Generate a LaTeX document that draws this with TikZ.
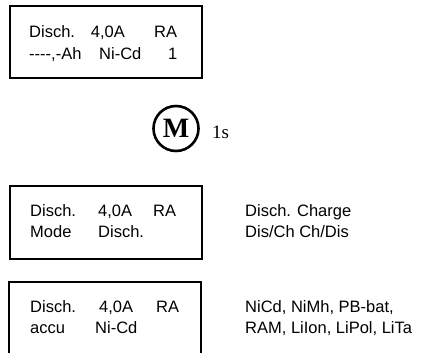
\documentclass[tikz,border=0pt]{standalone}
\usepackage{fontspec}
\setmainfont{Liberation Sans}
\newfontfamily\serifM{Liberation Serif}
\begin{document}
\begin{tikzpicture}[x=1pt,y=-1pt,
  lcd/.style={draw=black,line width=1.6pt},
  txt/.style={anchor=base west,inner sep=0pt,font=\fontsize{16.5}{19}\selectfont},
  mbutton/.style={circle,draw=black,line width=2.6pt,minimum size=45pt,inner sep=0pt,font=\serifM\bfseries\fontsize{28}{30}\selectfont},
  ttxt/.style={anchor=base west,inner sep=0pt,font=\serifM\fontsize{19}{21}\selectfont}]
\useasboundingbox (0,0) rectangle (426,353);
% box 1
\node[lcd,minimum width=192pt,minimum height=72pt,anchor=north west,inner sep=0pt] (b1) at (9,5) {};
\node[txt] (b1a) at (29,37.3) {Disch.};
\node[txt] (b1b) at (90.7,37.3) {4,0A};
\node[txt] (b1c) at (154,37.3) {RA};
\node[txt] (b1d) at (29,59.3) {{-}{-}{-}{-},{-}Ah};
\node[txt] (b1e) at (99,59.3) {Ni-Cd};
\node[txt] (b1f) at (168,59.3) {1};
% M button
\node[mbutton] (m) at (176,128.5) {M};
\node[ttxt] (t) at (212,138.5) {1s};
% box 2
\node[lcd,minimum width=192pt,minimum height=73pt,anchor=north west,inner sep=0pt] (b2) at (9,185) {};
\node[txt] (b2a) at (30,216) {Disch.};
\node[txt] (b2b) at (98,216) {4,0A};
\node[txt] (b2c) at (153,216) {RA};
\node[txt] (b2d) at (30,237.3) {Mode};
\node[txt] (b2e) at (98,237.3) {Disch.};
\node[txt] (r2a) at (245,216) {Disch. Charge};
\node[txt] (r2b) at (245,237.3) {Dis/Ch Ch/Dis};
% box 3 (cut off at the bottom)
\coordinate (c3a) at (9,356);
\coordinate (c3b) at (9,282);
\coordinate (c3c) at (201,282);
\coordinate (c3d) at (201,356);
\draw[lcd] (c3a) -- (c3b) -- (c3c) -- (c3d);
\node[txt] (b3a) at (30,312.5) {Disch.};
\node[txt] (b3b) at (99,312.5) {4,0A};
\node[txt] (b3c) at (156,312.5) {RA};
\node[txt] (b3d) at (30,333) {accu};
\node[txt] (b3e) at (95,333) {Ni-Cd};
\node[txt] (r3a) at (245,312.5) {NiCd, NiMh, PB-bat,};
\node[txt] (r3b) at (245,333) {RAM, LiIon, LiPol, LiTa};
\end{tikzpicture}
\end{document}
